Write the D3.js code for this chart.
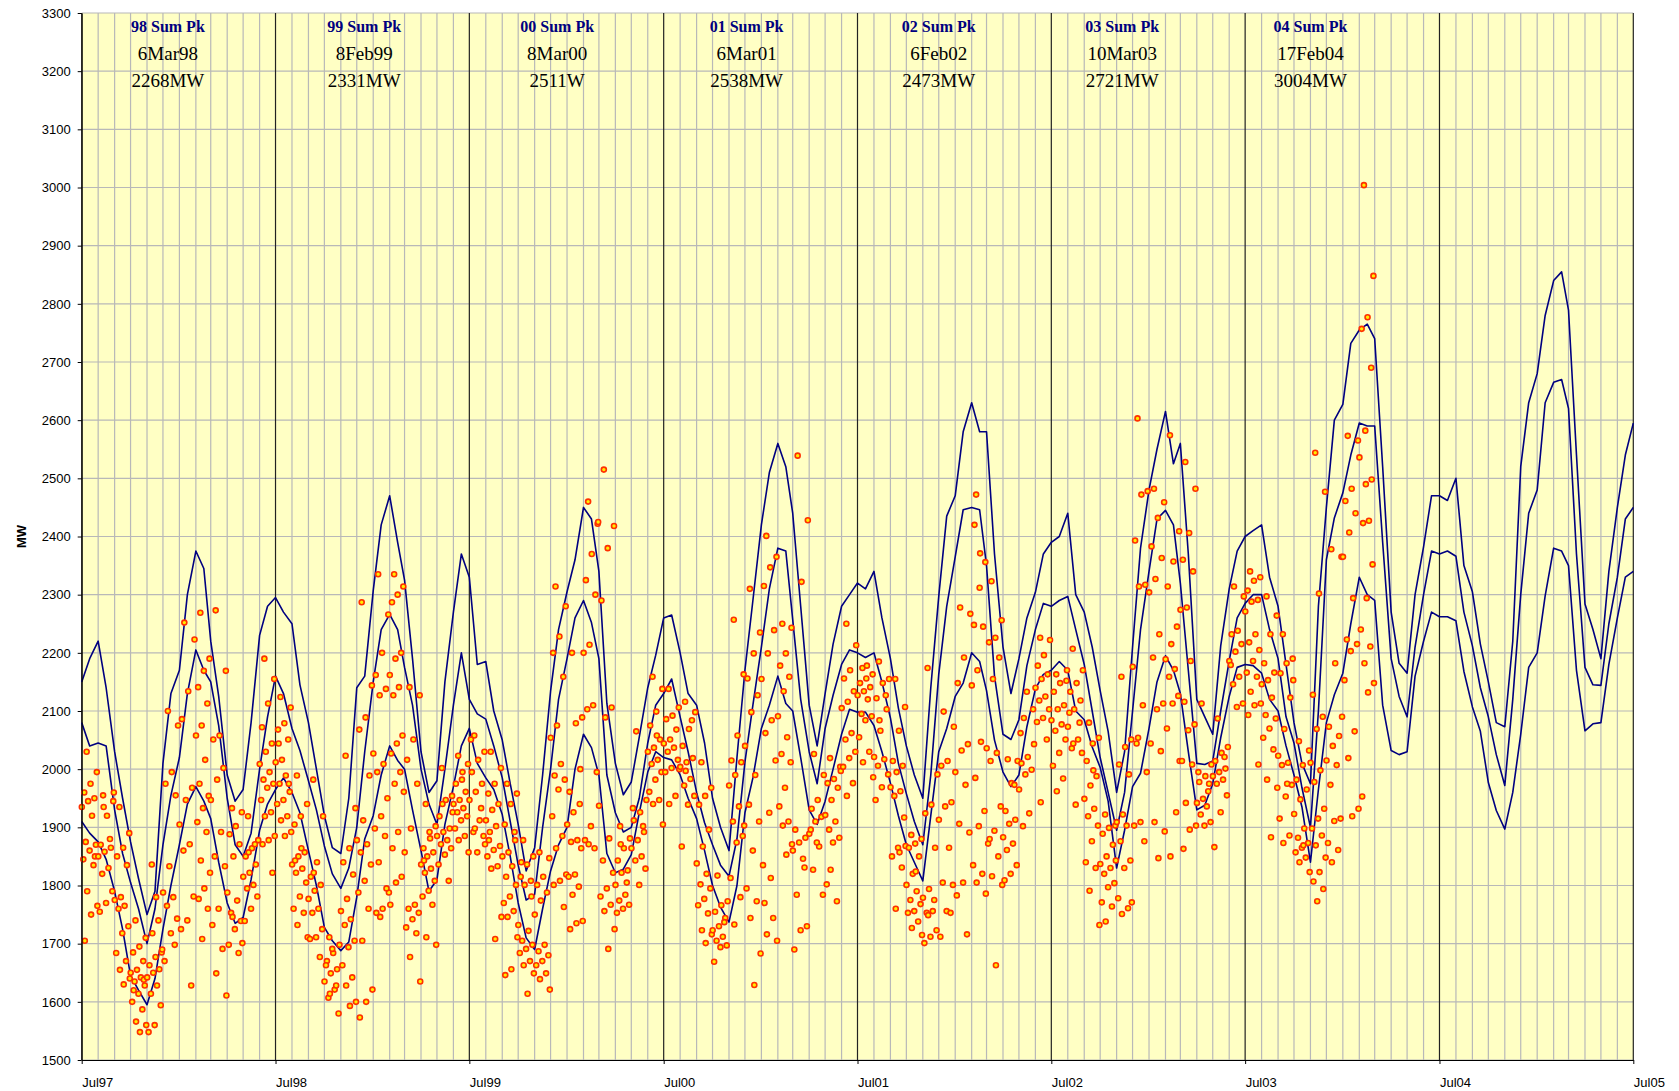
<!DOCTYPE html>
<html lang="en">
<head>
<meta charset="utf-8">
<title>Daily peak demand and forecast bands</title>
<script src="https://cdn.jsdelivr.net/npm/d3@7/dist/d3.min.js"></script>
<style>
  body { margin: 0; background: #fff; }
  .axis text { font-family: "Liberation Sans", Arial, sans-serif; font-size: 13px; fill: #000; }
  .axis path, .axis line { stroke: #000; }
  .pk-head { font-family: "Liberation Serif", "Times New Roman", serif; font-weight: bold; font-size: 16px; fill: #000080; }
  .pk-line { font-family: "Liberation Serif", "Times New Roman", serif; font-size: 19px; fill: #000; }
</style>
</head>
<body>
<div id="chart"></div>
<script>
// half-monthly values, starting 1 Jul 1997 (even index = 1st, odd index = 16th)
var upperBand = [
2150,2190,2220,2140,2030,1950,1875,1812,1750,1790,2010,2130,2170,2300,2375,2345,2220,2125,1990,1945,1965,2080,2230,2280,
2295,2270,2250,2145,2080,2000,1920,1865,1855,1950,2140,2160,2307,2420,2470,2390,2325,2190,2030,1960,1980,2150,2270,2370,
2330,2180,2185,2100,2050,1975,1905,1825,1865,1990,2134,2240,2305,2360,2450,2430,2340,2113,2010,1956,1978,2055,2140,2196,
2260,2265,2200,2130,2110,2045,1950,1900,1860,2020,2170,2290,2420,2510,2560,2520,2440,2280,2110,2040,2130,2215,2280,2300,
2320,2310,2340,2260,2190,2105,2040,1990,1950,2140,2297,2435,2470,2580,2630,2580,2580,2370,2210,2130,2190,2260,2304,2370,
2390,2400,2440,2300,2270,2210,2135,2065,1960,2030,2210,2380,2480,2550,2615,2525,2560,2370,2120,2090,2060,2212,2310,2375,
2400,2410,2420,2330,2280,2180,2080,2010,1975,2280,2450,2600,2627,2732,2755,2765,2740,2520,2270,2182,2165,2300,2382,2470,
2470,2462,2500,2350,2305,2215,2150,2080,2073,2220,2520,2630,2680,2780,2840,2855,2789,2540,2284,2240,2190,2340,2450,2540,
2595];
var middleBand = [
2080,2040,2045,2040,1930,1855,1805,1760,1700,1760,1870,1955,2020,2130,2205,2170,2150,2075,1950,1870,1850,1890,2000,2090,
2160,2130,2070,2032,1980,1930,1868,1820,1795,1830,1900,2030,2150,2240,2266,2240,2175,2110,2000,1940,1905,2000,2110,2200,
2120,2095,2086,2040,1985,1910,1835,1775,1785,1900,2000,2120,2190,2260,2290,2252,2190,1990,1925,1892,1900,1950,2045,2110,
2130,2155,2090,2030,1960,1908,1870,1835,1816,1880,2012,2110,2210,2310,2380,2375,2257,2120,2030,1975,2070,2127,2180,2205,
2200,2192,2200,2150,2088,2010,1958,1910,1870,1990,2163,2280,2365,2446,2450,2446,2350,2160,2060,2051,2085,2178,2240,2285,
2280,2290,2297,2240,2180,2100,2020,1960,1895,1960,2100,2240,2340,2430,2445,2420,2320,2170,2010,2008,2014,2100,2186,2260,
2285,2300,2300,2240,2190,2090,2045,1968,1900,2100,2360,2432,2475,2540,2595,2590,2590,2390,2190,2125,2090,2210,2300,2375,
2370,2375,2366,2270,2212,2140,2090,2025,1972,2120,2300,2440,2480,2630,2665,2670,2620,2370,2175,2145,2144,2250,2330,2430,
2450];
var lowerBand = [
1910,1890,1875,1845,1790,1725,1645,1620,1595,1640,1725,1800,1870,1940,1970,1945,1915,1840,1770,1735,1745,1810,1895,1940,
1965,1985,1960,1925,1860,1800,1728,1705,1688,1703,1780,1880,1920,1990,2040,2015,2000,1930,1860,1790,1810,1905,1970,2040,
2070,2010,1985,1965,1922,1850,1770,1710,1690,1760,1825,1870,1900,2000,2060,2037,1990,1855,1822,1828,1853,1925,1995,2030,
2020,2016,1990,1950,1915,1860,1800,1763,1737,1800,1925,1985,2070,2110,2160,2113,2100,2020,1930,1905,1945,2000,2060,2103,
2098,2098,2075,2030,1976,1920,1870,1840,1808,1920,2030,2070,2125,2148,2200,2185,2135,2050,1995,1970,1990,2073,2138,2163,
2170,2185,2170,2100,2085,2038,2003,1945,1830,1895,1970,1993,2070,2150,2195,2170,2130,2030,1930,1938,1975,2054,2125,2175,
2180,2178,2165,2120,2100,2040,1990,1935,1840,1965,2080,2128,2165,2250,2330,2300,2290,2110,2032,2025,2030,2160,2220,2270,
2262,2262,2255,2168,2107,2065,1977,1929,1897,1960,2060,2175,2200,2298,2380,2375,2350,2170,2066,2078,2080,2180,2260,2330,
2340];

// daily peaks (MW), one list per month starting Jul 1997
var dailyPeaks = [
[2030,1995,1975,1960,1950,1945,1935,1920,1875,1870,1860,1845,1835,1790,1765,1750,1705,1850],
[1955,1945,1920,1870,1865,1858,1850,1830,1820,1790,1770,1755,1880,1935,1960],
[1935,1890,1865,1850,1835,1780,1775,1765,1760,1730,1718,1684,1670,1655,1640,1630],
[1740,1710,1695,1685,1670,1655,1650,1642,1635,1628,1614,1600,1587,1566,1560,1548,1620,1638],
[1836,1685,1677,1663,1656,1650,1642,1628,1614,1594,1560,1548,1740,1718,1690,1780],
[2100,2075,1995,1975,1955,1833,1788,1780,1765,1743,1718,1670,1698],
[2252,2223,2134,2086,1968,1947,1905,1871,1860,1781,1740,1725,1628],
[2269,2190,2169,2141,2113,2075,2058,2016,1975,1954,1933,1909,1892,1843,1822,1795,1777,1760,1708],
[2273,2169,2058,2051,2002,1982,1947,1892,1850,1833,1760,1732,1691,1649,1611],
[1933,1926,1902,1888,1871,1850,1788,1774,1753,1739,1725,1698,1684,1746,1701],
[1919,1878,1864,1850,1836,1822,1815,1801,1795,1781,1760,1739,1871,1857],
[2190,2155,2113,2072,2044,2030,2009,1995,1982,1975,1968,1947,1926,1919,1885,1878,1871,1822],
[2124,2106,2079,2068,2051,2016,2012,1989,1975,1961,1947,1940,1919,1912,1892,1885,2044,1975],
[1989,1940,1919,1905,1857,1850,1836,1829,1822,1805,1781,1760,1753,1732,1711,1864,1843],
[1982,1919,1840,1815,1801,1791,1777,1760,1753,1725,1711,1708,1677,1822],
[1711,1698,1684,1670,1656,1649,1635,1621,1607,1580,1691,1663,1628,1614],
[2023,1933,1864,1840,1819,1777,1756,1742,1732,1705,1694,1663,1642,1628,1600,1593],
[2287,2144,2089,2068,1989,1912,1878,1871,1857,1836,1808,1788,1760,1705,1621,1600,1573],
[2335,2266,2200,2162,2138,2127,2027,2009,1995,1950,1919,1898,1885,1840,1788,1760,1753,1795,1746],
[2335,2314,2300,2287,2200,2190,2162,2141,2127,2058,2044,2027,1995,1975,1961,1892,1864,1815,1805,1767],
[2141,2127,2051,2016,1975,1898,1857,1767,1760,1753,1742,1728,1718,1677,1635],
[1940,1902,1892,1864,1857,1850,1836,1829,1822,1808,1791,1781,1767,1711,1698,1881,1843],
[2002,1954,1947,1919,1898,1892,1885,1878,1871,1864,1853,1836,1808,1940,1926],
[2023,2009,1982,1975,1961,1947,1940,1933,1926,1919,1912,1898,1885,1878,1857,1995],
[2058,2030,2016,1995,1975,1961,1947,1912,1892,1885,1857,2051,1933,1898,1871],
[2030,2002,1975,1958,1940,1930,1912,1902,1892,1868,1861,1850,1833,1829,1746,1708,1878],
[1975,1958,1940,1905,1892,1857,1850,1833,1815,1801,1781,1770,1756,1746,1711,1656,1646,1878],
[1878,1850,1836,1815,1808,1801,1732,1722,1705,1698,1691,1684,1670,1663,1649,1614,1840,1781],
[1857,1847,1815,1801,1788,1774,1750,1698,1687,1680,1670,1663,1649,1639,1621],
[2314,2280,2228,2200,2159,2075,2054,2009,1989,1982,1965,1919,1885,1864,1819,1808,1801,1763],
[2200,2089,2079,1961,1940,1926,1905,1878,1875,1864,1819,1815,1798,1784,1739,1735,1725,2000],
[2460,2422,2370,2325,2300,2214,2200,2110,2103,1995,1902,1878,1864,1871,2425],
[2515,2418,2380,2290,2106,2089,1937,1881,1843,1822,1795,1781,1767,1756,1725,1691],
[1902,1881,1864,1843,1826,1822,1801,1784,1774,1767,1760,1753,1805,1871],
[2065,1947,1926,1912,1892,1878,1864,1850,1843,1829,1801,1933,1902],
[2159,2138,2099,2075,2051,2037,2030,2016,2009,1995,1982,1961,1947,1940,1905,2058],
[2138,2106,2092,2086,2068,2051,2044,2037,2030,2016,2002,1995,1954,1940,2000],
[2116,2098,2069,2040,2019,2012,2004,1983,1972,1954,1939,1867,2084,1997],
[2012,1968,1954,1939,1896,1867,1838,1820,1802,1795,1777,1766,1752,1723,1716,1701],
[1817,1773,1766,1755,1744,1730,1723,1712,1705,1697,1694,1669,1737],
[2257,2163,2058,2015,2012,1990,1972,1936,1910,1885,1874,1813,1780,1733,1903],
[2310,2235,2199,2156,2127,2098,2040,1990,1939,1910,1860,1795,1773,1744,1683,1629],
[2401,2365,2347,2315,2239,2199,2155,2084,2062,2015,1925,1835,1744,1716,1705,1813,1770],
[2250,2243,2199,2178,2159,2134,2091,2055,2026,2012,1968,1936,1910,1903,1871,1853],
[2539,2428,2322,1896,1882,1874,1860,1846,1784,1730,1723,1690,1831],
[2026,1990,1947,1932,1918,1910,1889,1867,1827,1784,1874,1896],
[2019,2004,1983,1976,1968,1947,1921,1910,1896,1882,1874,1802,1773,1827,1997],
[2250,2213,2170,2156,2134,2116,2105,2062,2051,2030,2019,2004,1976,1954],
[2174,2163,2156,2148,2141,2134,2127,2120,2095,2091,2084,2055,2030,2012,1986,2178],
[2185,2155,2148,2122,2103,2066,2021,2017,2006,1991,1969,1947,2127,2084],
[2155,2107,2066,2014,2006,1995,1969,1962,1954,1917,1865,1850,1831,1760,1868,1857],
[1887,1880,1872,1865,1850,1820,1801,1790,1775,1768,1756,1753,1738,1727,1715,1824],
[2174,1991,1939,1924,1865,1794,1779,1756,1753,1723,1712,1701,1775,1749],
[2099,2073,2014,2006,1943,1936,1913,1865,1805,1801,1756,1712,1753],
[2278,2267,2192,2148,2043,2032,1995,1973,1906,1891,1805,1783,1716],
[2472,2356,2312,2248,2245,2170,2144,2047,1985,1928,1902,1835,1820,1805,1786,2371,2420],
[2323,2256,2226,2218,2192,2155,2036,2028,2014,1936,1894,1872,1850,1816,1801,1663,1880],
[2017,2014,1976,1928,1913,1906,1883,1872,1861,1835,1820,1809,1973],
[2088,2043,2021,2010,1999,1991,1965,1924,1902,2103,2133,2062],
[2226,2222,2196,2178,2163,2155,2140,2125,2118,2103,2088,2081,2051,1943],
[2163,2152,2148,2133,2110,2103,2084,2077,2066,2051,2028,2006,1984,1962,2170],
[2207,2170,2148,2133,2118,2103,2073,2051,2036,2028,1939,2097,2080,2044],
[2080,2054,2044,2014,1988,1972,1949,1932,1919,1903,1876,1840,1830,1791,1732,1998],
[1922,1903,1899,1889,1870,1850,1837,1830,1820,1804,1797,1771,1764,1738,1843],
[2159,2051,2038,2008,1991,1922,1909,1903,1876,1843,1830,1778,1761,1751,1771],
[2603,2478,2472,2393,2317,2314,2176,2110,2044,1995,1909,1903,1876,2054],
[2482,2459,2432,2383,2363,2327,2304,2232,2192,2113,2103,2044,2031,1909,1893,1847],
[2574,2409,2357,2314,2245,2215,2189,2172,2159,2126,2113,2070,1926,1850,2014],
[2528,2482,2406,2360,2340,2278,2274,2186,2116,2077,2067,2014,2008,1942,1903,1896,1863],
[2113,2008,1988,1978,1975,1949,1942,1936,1922,1909,1903,1995,1962],
[2087,2038,2028,2014,2001,1995,1988,1982,1975,1955,1926,1866,2021],
[2314,2297,2238,2232,2215,2202,2186,2159,2146,2113,2107,2179],
[2340,2330,2324,2307,2291,2288,2271,2232,2218,2205,2186,2166,2159,2133,2113,2110,2093,2008],
[2297,2264,2232,2182,2166,2153,2146,2123,2093,2087,2070,2054,2034,1982,1968,1883],
[2232,2190,2182,2165,2123,2069,2023,2011,2007,1973,1953,1915,1886,1873,2153,1975],
[2048,2032,2007,1982,1965,1948,1923,1898,1882,1873,1865,1857,1848,1840,1823,1869],
[2544,2477,2302,2128,2090,2069,2011,1998,1978,1932,1915,1898,1886,1869,1848,1823,1807,1794,1773],
[2378,2365,2182,2073,2057,2040,2015,2007,1973,1915,1911,1873,1861,1840,2090],
[2573,2565,2482,2461,2440,2407,2365,2294,2223,2215,2203,2153,2065,2019,1932,1919],
[3004,2848,2777,2757,2690,2582,2536,2427,2423,2352,2294,2240,2211,2182,2148,2132,1953,2498,2490]
];

// summer peak notes: months after Jul 1997 where each note is centred
var peakTitles = ["98 Sum Pk", "99 Sum Pk", "00 Sum Pk", "01 Sum Pk", "02 Sum Pk", "03 Sum Pk", "04 Sum Pk"];
var peakDates = ["6Mar98", "8Feb99", "8Mar00", "6Mar01", "6Feb02", "10Mar03", "17Feb04"];
var peakValues = ["2268MW", "2331MW", "2511W", "2538MW", "2473MW", "2721MW", "3004MW"];
var peakNoteMonths = [5.3, 17.45, 29.4, 41.1, 53.0, 64.35, 76.0];

var yTicks = d3.range(1500, 3301, 100);

var margin = {top: 13, right: 45.7, bottom: 31, left: 81.7};
var width = 1679 - margin.left - margin.right,
    height = 1091 - margin.top - margin.bottom;

var svgRoot = d3.select("#chart").append("svg")
    .attr("width", 1679)
    .attr("height", 1091);
var svg = svgRoot.append("g")
    .attr("transform", "translate(" + margin.left + "," + margin.top + ")");

var start = new Date(1997, 6, 1), end = new Date(2005, 6, 1);
var x = d3.scaleTime().domain([start, end]).range([0, width]);
var y = d3.scaleLinear().domain([1500, 3300]).range([height, 0]);

function halfMonth(k) {
    return new Date(1997, 6 + Math.floor(k / 2), k % 2 ? 16 : 1);
}
function monthsAfter(m) {
    var base = d3.timeMonth.offset(start, Math.floor(m));
    var next = d3.timeMonth.offset(start, Math.floor(m) + 1);
    return new Date(+base + (m - Math.floor(m)) * (next - base));
}

// background
svg.append("rect")
    .attr("width", width)
    .attr("height", height)
    .attr("fill", "#ffffc4");

// grid
svg.append("g").selectAll("line")
    .data(yTicks)
    .join("line")
    .attr("x1", 0).attr("x2", width)
    .attr("y1", d => y(d)).attr("y2", d => y(d))
    .attr("stroke", "#b8b8b8").attr("stroke-width", 1.2);

var months = d3.timeMonth.range(start, d3.timeDay.offset(end, 1));
svg.append("g").selectAll("line")
    .data(months)
    .join("line")
    .attr("x1", d => x(d)).attr("x2", d => x(d))
    .attr("y1", 0).attr("y2", height)
    .attr("stroke", d => d.getMonth() === 6 ? "#222" : "#b8b8b8")
    .attr("stroke-width", 1.2);

// forecast bands
var line = d3.line()
    .x((d, i) => x(halfMonth(i)))
    .y(d => y(d));

[upperBand, middleBand, lowerBand].forEach(function(series) {
    svg.append("path")
        .datum(series)
        .attr("fill", "none")
        .attr("stroke", "#000080")
        .attr("stroke-width", 1.6)
        .attr("stroke-linejoin", "round")
        .attr("d", line);
});

// daily peaks
var points = [];
dailyPeaks.forEach(function(list, m) {
    list.forEach(function(v, i) {
        var frac = (i * 0.618034 + 0.3) % 1;
        points.push({date: monthsAfter(m + frac), value: v});
    });
});

svg.append("g").selectAll("circle")
    .data(points)
    .join("circle")
    .attr("cx", d => x(d.date))
    .attr("cy", d => y(d.value))
    .attr("r", 2.5)
    .attr("fill", "#ffee00")
    .attr("stroke", "#ff3000")
    .attr("stroke-width", 1.6);

// axes
svg.append("g")
    .attr("class", "axis")
    .call(d3.axisLeft(y).tickValues(yTicks).tickSize(4).tickSizeOuter(0).tickPadding(7).tickFormat(d3.format("d")));

var xAxis = svg.append("g")
    .attr("class", "axis")
    .attr("transform", "translate(0," + height + ")")
    .call(d3.axisBottom(x)
        .tickValues(d3.range(1997, 2006).map(yr => new Date(yr, 6, 1)))
        .tickSize(4).tickSizeOuter(0)
        .tickFormat(d3.timeFormat("%b%y")));
xAxis.selectAll("text")
    .attr("text-anchor", "start")
    .attr("y", 27)
    .attr("dy", null);

svgRoot.append("text")
    .attr("transform", "translate(26," + (margin.top + height / 2) + ") rotate(-90)")
    .attr("text-anchor", "middle")
    .style("font-family", "'Liberation Sans', Arial, sans-serif")
    .style("font-weight", "bold")
    .style("font-size", "13px")
    .text("MW");

// summer peak notes
var notes = svg.append("g").selectAll("g")
    .data(peakTitles)
    .join("g")
    .attr("transform", (d, i) => "translate(" + x(monthsAfter(peakNoteMonths[i])) + ",0)");
notes.append("text").attr("class", "pk-head").attr("text-anchor", "middle").attr("y", 19).text(d => d);
notes.append("text").attr("class", "pk-line").attr("text-anchor", "middle").attr("y", 47).text((d, i) => peakDates[i]);
notes.append("text").attr("class", "pk-line").attr("text-anchor", "middle").attr("y", 74).text((d, i) => peakValues[i]);
</script>
</body>
</html>
